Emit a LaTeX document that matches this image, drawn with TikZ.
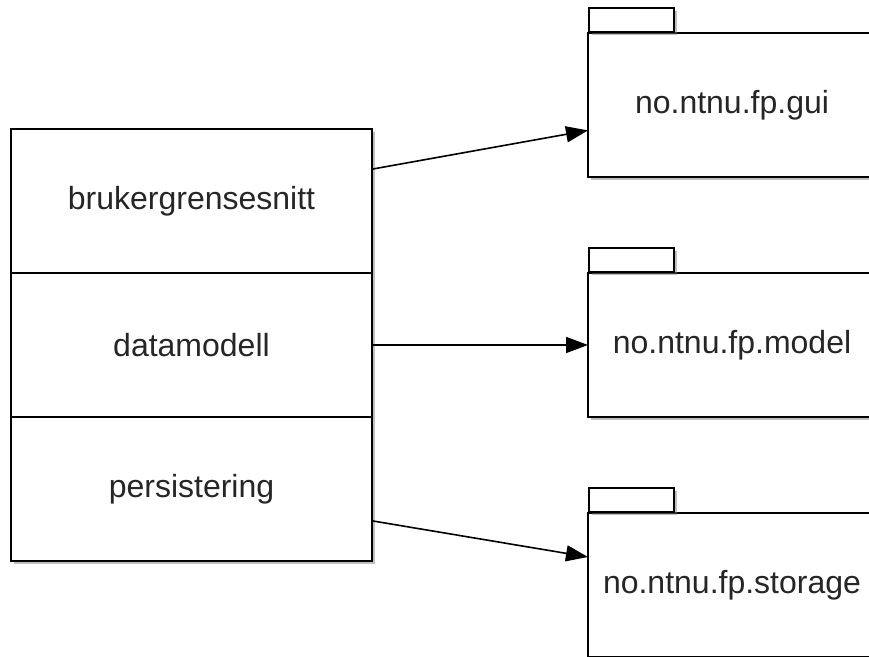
\documentclass[tikz,border=0pt]{standalone}
\usepackage{fontspec}
\setmainfont{Liberation Sans}
\usetikzlibrary{arrows.meta,shadows,positioning}
\tikzset{
  skygge/.style={drop shadow={shadow xshift=1.5pt, shadow yshift=-1.5pt, opacity=0.5}},
  lag/.style={draw, line width=1pt, fill=white, skygge, inner sep=0pt, outer sep=0pt,
    minimum width=180.5pt, minimum height=72pt, font=\fontsize{16}{19}\selectfont},
  pakke/.style={draw, line width=1pt, fill=white, skygge, inner sep=0pt, outer sep=0pt,
    minimum width=144pt, minimum height=72pt, font=\fontsize{16}{19}\selectfont},
  fane/.style={draw, line width=1pt, fill=white, skygge, inner sep=0pt,
    minimum width=42.5pt, minimum height=12pt, anchor=south west},
  pil/.style={-{Triangle[length=11pt,width=8pt]}, line width=0.8pt}
}
\begin{document}
\begin{tikzpicture}[x=0.5pt,y=-0.5pt, text=black!85]
            \useasboundingbox (0,0) rectangle (869,657);
            % lagene
            \node[lag] (ui) at (191.5,201) {brukergrensesnitt};
                \node[lag, below=0pt of ui] (data) {datamodell};
                \node[lag, below=0pt of data] (persist) {persistering};
            % pakkene
            \node[pakke] (gui) at (732,105) {no.ntnu.fp.gui};
                \node[fane] (guitab) at (gui.north west) {};
            \node[pakke] (model) at (732,345) {no.ntnu.fp.model};
                \node[fane] (modeltab) at (model.north west) {};
            \node[pakke] (storage) at (732,585) {no.ntnu.fp.storage};
                \node[fane] (storagetab) at (storage.north west) {};
            % piler
            \draw[pil] (ui.10) -- (gui.190);
            \draw[pil] (data.east) -- (model.west);
            \draw[pil] (persist.-10) -- (storage.169);
        \end{tikzpicture}
\end{document}
